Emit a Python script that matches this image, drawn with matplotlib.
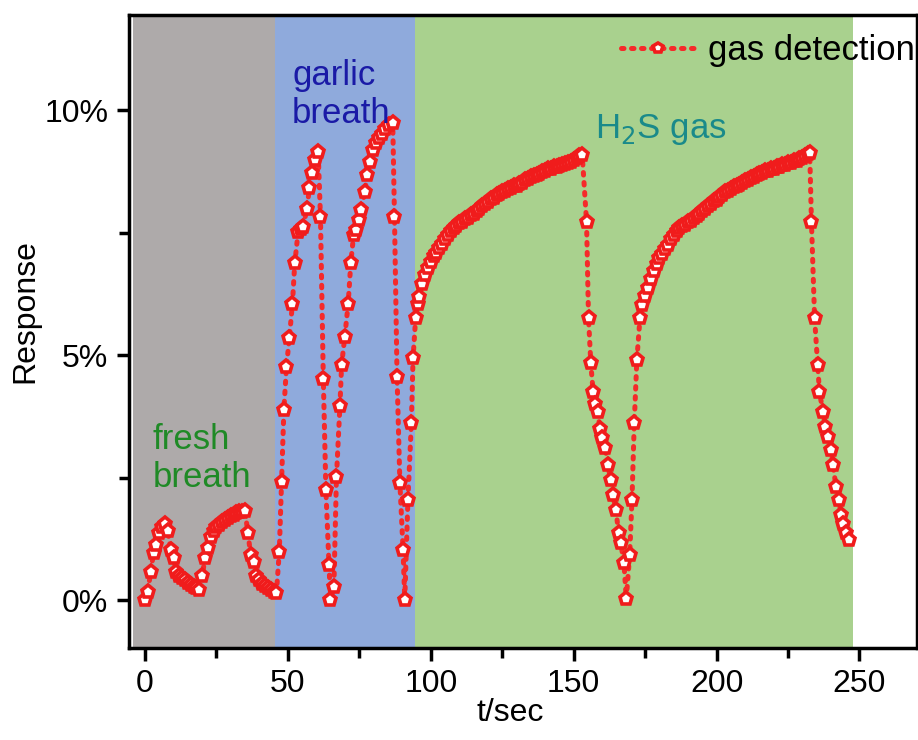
import matplotlib
matplotlib.use("Agg")
import matplotlib.pyplot as plt
from matplotlib.ticker import MultipleLocator, FuncFormatter

plt.rcParams['font.family'] = ['Liberation Sans', 'DejaVu Sans']

# ---- data ----
# fresh breath (t = 0..46 s)
t_fresh = [0, 1, 2, 3, 4, 5, 6, 7, 8, 9, 10, 11, 12, 13, 14, 15, 16, 17, 18, 19,
           20, 21, 22, 23, 24, 25, 26, 27, 28, 29, 30, 31, 32, 33, 34, 35, 36, 37,
           38, 39, 40, 41, 42, 43, 44, 45, 46]
r_fresh = [0.00, 0.17, 0.58, 0.96, 1.12, 1.36, 1.50, 1.55, 1.40, 1.02, 0.85, 0.58,
           0.50, 0.44, 0.40, 0.35, 0.31, 0.27, 0.24, 0.20, 0.48, 0.85, 1.06, 1.29,
           1.40, 1.48, 1.54, 1.60, 1.64, 1.68, 1.71, 1.74, 1.77, 1.79, 1.80, 1.82,
           1.37, 0.92, 0.78, 0.48, 0.40, 0.33, 0.28, 0.24, 0.20, 0.17, 0.15]

# garlic breath
t_garlic = [47.0, 47.8, 48.6, 49.5, 50.5, 51.6, 52.4, 53.6, 54.5, 55.3, 56.7, 57.5,
            58.3, 59.4, 60.6, 61.4, 62.4, 63.3, 64.4, 64.9, 66.1, 67.0, 68.2, 68.8,
            69.9, 71.1, 72.0, 73.0, 73.8, 74.8, 75.7, 76.9, 77.8, 78.6, 79.8, 80.8,
            81.8, 82.8, 83.9, 85.4, 86.7, 87.3, 88.2, 89.2, 90.3, 90.9, 92.0, 93.2,
            93.8, 94.7]
r_garlic = [0.99, 2.41, 3.88, 4.76, 5.34, 6.05, 6.87, 7.52, 7.58, 7.62, 7.99, 8.40,
            8.71, 8.98, 9.15, 7.82, 4.52, 2.24, 0.71, 0.00, 0.27, 2.52, 3.95, 4.80,
            5.37, 6.05, 6.87, 7.45, 7.55, 7.75, 7.96, 8.33, 8.67, 8.94, 9.18, 9.32,
            9.42, 9.52, 9.62, 9.69, 9.73, 7.82, 4.56, 2.38, 1.02, 0.00, 2.04, 3.61,
            4.93, 5.75]

# H2S gas, first exposure
t_h2s1 = [95.5, 96, 97, 98, 99, 100, 101, 102, 103, 104, 105, 106, 107, 108, 109,
          110, 111, 112, 113, 114, 115, 116, 117, 118, 119, 120, 121, 122, 123, 124,
          125, 126, 127, 128, 129, 130, 131, 132, 133, 134, 135, 136, 137, 138, 139,
          140, 141, 142, 143, 144, 145, 146, 147, 148, 149, 150, 151, 152, 153]
r_h2s1 = [6.05, 6.18, 6.45, 6.63, 6.77, 6.90, 7.02, 7.09, 7.19, 7.26, 7.36, 7.45,
          7.53, 7.60, 7.63, 7.69, 7.71, 7.77, 7.80, 7.86, 7.88, 7.95, 7.99, 8.05,
          8.08, 8.13, 8.18, 8.20, 8.26, 8.28, 8.33, 8.34, 8.38, 8.40, 8.45, 8.46,
          8.50, 8.52, 8.58, 8.60, 8.64, 8.65, 8.68, 8.70, 8.74, 8.75, 8.79, 8.80,
          8.83, 8.84, 8.86, 8.87, 8.90, 8.91, 8.95, 8.99, 9.02, 9.06, 9.08]

# recovery and second exposure
t_drop1 = [154.5, 155.2, 156.0, 156.8, 157.6, 158.4, 159.2, 160.0, 161.0, 162.0,
           162.9, 163.7, 164.8, 165.7, 166.5, 167.6, 168.4, 169.6, 170.4, 171.2,
           172.1, 173.2]
r_drop1 = [7.72, 5.75, 4.83, 4.25, 4.00, 3.84, 3.50, 3.30, 3.10, 2.76, 2.45, 2.14,
           1.84, 1.36, 1.16, 0.75, 0.02, 0.92, 2.04, 3.61, 4.90, 5.75]

t_h2s2 = [174, 175, 176, 177, 178, 179, 180, 181, 182, 183, 184, 185, 186, 187, 188,
          189, 190, 191, 192, 193, 194, 195, 196, 197, 198, 199, 200, 201, 202, 203,
          204, 205, 206, 207, 208, 209, 210, 211, 212, 213, 214, 215, 216, 217, 218,
          219, 220, 221, 222, 223, 224, 225, 226, 227, 228, 229, 230, 231, 232, 232.6]
r_h2s2 = [6.02, 6.20, 6.36, 6.55, 6.72, 6.85, 6.98, 7.07, 7.16, 7.25, 7.36, 7.45,
          7.53, 7.59, 7.63, 7.66, 7.71, 7.74, 7.80, 7.84, 7.88, 7.94, 7.98, 8.05,
          8.08, 8.14, 8.17, 8.23, 8.26, 8.32, 8.34, 8.38, 8.42, 8.44, 8.48, 8.51,
          8.56, 8.58, 8.62, 8.64, 8.68, 8.70, 8.71, 8.75, 8.76, 8.79, 8.80, 8.83,
          8.84, 8.87, 8.88, 8.91, 8.92, 8.96, 8.97, 9.01, 9.03, 9.07, 9.10, 9.12]

t_drop2 = [233.2, 234.3, 235.4, 236.0, 237.2, 238.1, 238.9, 240.1, 240.7, 241.8,
           242.8, 243.6, 244.4, 245.3, 246.5]
r_drop2 = [7.72, 5.75, 4.80, 4.25, 3.84, 3.54, 3.33, 3.06, 2.76, 2.31, 2.04, 1.73,
           1.56, 1.36, 1.22]

# background regions (start, end, colour)
region_bounds = [-4.3, 45.5, 94.5, 247.8]
region_colors = ['#aeaaaa', '#8faadc', '#a9d18e']

t_all = t_fresh + t_garlic + t_h2s1 + t_drop1 + t_h2s2 + t_drop2
r_all = r_fresh + r_garlic + r_h2s1 + r_drop1 + r_h2s2 + r_drop2

# ---- figure ----
fig = plt.figure(figsize=(9.18, 7.40), dpi=100)
ax = fig.add_axes([0.1405, 0.1243, 0.858, 0.8554])

for i, c in enumerate(region_colors):
    ax.axvspan(region_bounds[i], region_bounds[i + 1], color=c, lw=0, zorder=0)

ax.plot(t_all, r_all, color='#f52a2a', linestyle=(0, (0.5, 1.5)), linewidth=3.6,
        dash_capstyle='round', marker='p', markersize=9.5, markerfacecolor='white',
        markeredgecolor='#f01c1c', markeredgewidth=2.6, label='gas detection',
        zorder=3)

ax.set_xlim(-5.6, 270)
ax.set_ylim(-0.98, 11.94)

ax.xaxis.set_major_locator(MultipleLocator(50))
ax.xaxis.set_minor_locator(MultipleLocator(25))
ax.yaxis.set_major_locator(MultipleLocator(5))
ax.yaxis.set_minor_locator(MultipleLocator(2.5))
ax.yaxis.set_major_formatter(FuncFormatter(lambda v, p: f"{v:.0f}%"))

ax.tick_params(axis='both', which='major', direction='out', length=9, width=2.5,
               labelsize=23, top=False, right=False, pad=6)
ax.tick_params(axis='both', which='minor', direction='out', length=7, width=2.5,
               top=False, right=False)
for s in ax.spines.values():
    s.set_linewidth(2.5)

ax.set_xlabel('t/sec', fontsize=23)
ax.set_ylabel('Response', fontsize=23)
ax.xaxis.set_label_coords(0.4835, -0.079)
ax.yaxis.set_label_coords(-0.113, 0.532)

ax.text(2.8, 3.62, 'fresh\nbreath', color='#1f8a26', fontsize=25, va='top',
        ha='left', linespacing=1.2, zorder=4)
ax.text(51.5, 11.05, 'garlic\nbreath', color='#1a1aa6', fontsize=25, va='top',
        ha='left', linespacing=1.2, zorder=4)
ax.text(157.5, 9.6, 'H$_2$S gas', color='#1a8a8a', fontsize=25, va='center',
        ha='left', zorder=4)

leg = ax.legend(loc='upper right', bbox_to_anchor=(1.0, 0.972), frameon=False,
                fontsize=25, handlelength=2.1, handletextpad=0.4, borderpad=0.05,
                borderaxespad=0.0, markerscale=0.8)

fig.savefig('out.png', dpi=100)
